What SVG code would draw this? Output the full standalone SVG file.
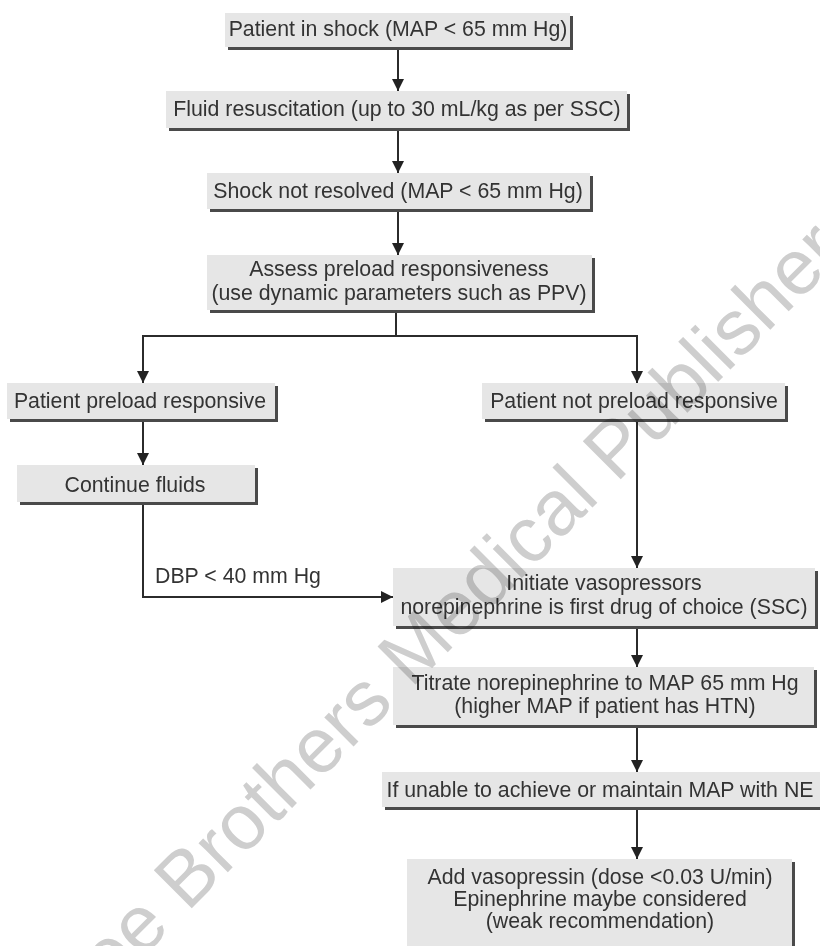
<svg xmlns="http://www.w3.org/2000/svg" width="820" height="946" viewBox="0 0 820 946">
<style>
text{font-family:"Liberation Sans",Arial,Helvetica,sans-serif;font-size:21.3px;fill:#333333}
.box{fill:#e6e6e6}
.sh{fill:#4a4a4a}
.c{text-anchor:middle}
.ln{fill:none;stroke:#2b2b2b;stroke-width:2}
.wm{font-size:78px;fill:#cecece;mix-blend-mode:multiply}
</style>
<defs>
<marker id="ah" viewBox="0 0 12 12" markerWidth="12" markerHeight="12" refX="12" refY="6" orient="auto" markerUnits="userSpaceOnUse">
<path d="M0,0 L12,6 L0,12 Z" fill="#222222"/>
</marker>
</defs>
<rect width="820" height="946" fill="#ffffff"/>

<g id="n1">
<rect class="sh" x="228" y="16" width="345" height="34"/>
<rect class="box" x="225" y="13" width="345" height="34"/>
<text class="c" x="398" y="36">Patient in shock (MAP &lt; 65 mm Hg)</text>
</g>
<g id="n2">
<rect class="sh" x="169" y="94" width="461" height="37"/>
<rect class="box" x="166" y="91" width="461" height="37"/>
<text class="c" x="397" y="116">Fluid resuscitation (up to 30 mL/kg as per SSC)</text>
</g>
<g id="n3">
<rect class="sh" x="210" y="176" width="383" height="36"/>
<rect class="box" x="207" y="173" width="383" height="36"/>
<text class="c" x="398" y="198">Shock not resolved (MAP &lt; 65 mm Hg)</text>
</g>
<g id="n4">
<rect class="sh" x="210" y="258" width="385" height="55"/>
<rect class="box" x="207" y="255" width="385" height="55"/>
<text class="c" x="399" y="276">Assess preload responsiveness</text>
<text class="c" x="399" y="300">(use dynamic parameters such as PPV)</text>
</g>
<g id="n5">
<rect class="sh" x="10" y="386" width="268" height="36"/>
<rect class="box" x="7" y="383" width="268" height="36"/>
<text class="c" x="140" y="408">Patient preload responsive</text>
</g>
<g id="n6">
<rect class="sh" x="485" y="386" width="303" height="36"/>
<rect class="box" x="482" y="383" width="303" height="36"/>
<text class="c" x="634" y="408">Patient not preload responsive</text>
</g>
<g id="n7">
<rect class="sh" x="20" y="468" width="238" height="37"/>
<rect class="box" x="17" y="465" width="238" height="37"/>
<text class="c" x="135" y="492">Continue fluids</text>
</g>
<g id="n8">
<rect class="sh" x="396" y="571" width="422" height="58"/>
<rect class="box" x="393" y="568" width="422" height="58"/>
<text class="c" x="604" y="590">Initiate vasopressors</text>
<text class="c" x="604" y="614">norepinephrine is first drug of choice (SSC)</text>
</g>
<g id="n9">
<rect class="sh" x="396" y="670" width="421" height="58"/>
<rect class="box" x="393" y="667" width="421" height="58"/>
<text class="c" x="605" y="690">Titrate norepinephrine to MAP 65 mm Hg</text>
<text class="c" x="605" y="713">(higher MAP if patient has HTN)</text>
</g>
<g id="n10">
<rect class="sh" x="385" y="775" width="440" height="35"/>
<rect class="box" x="382" y="772" width="440" height="35"/>
<text class="c" x="600" y="797">If unable to achieve or maintain MAP with NE</text>
</g>
<g id="n11">
<rect class="sh" x="410" y="862" width="385" height="100"/>
<rect class="box" x="407" y="859" width="385" height="100"/>
<text class="c" x="600" y="884">Add vasopressin (dose &lt;0.03 U/min)</text>
<text class="c" x="600" y="906">Epinephrine maybe considered</text>
<text class="c" x="600" y="928">(weak recommendation)</text>
</g>

<g id="connectors">
<path class="ln" d="M398,50 V91" marker-end="url(#ah)"/>
<path class="ln" d="M398,131 V173" marker-end="url(#ah)"/>
<path class="ln" d="M398,212 V255" marker-end="url(#ah)"/>
<path class="ln" d="M396,313 V336 M142,336 H638"/>
<path class="ln" d="M143,336 V383" marker-end="url(#ah)"/>
<path class="ln" d="M637,336 V383" marker-end="url(#ah)"/>
<path class="ln" d="M143,422 V465" marker-end="url(#ah)"/>
<path class="ln" d="M143,505 V597 H393" marker-end="url(#ah)"/>
<path class="ln" d="M637,422 V568" marker-end="url(#ah)"/>
<path class="ln" d="M637,629 V667" marker-end="url(#ah)"/>
<path class="ln" d="M637,728 V772" marker-end="url(#ah)"/>
<path class="ln" d="M637,810 V859" marker-end="url(#ah)"/>
<text x="155" y="583">DBP &lt; 40 mm Hg</text>
</g>

<g id="watermark" transform="translate(187,913) rotate(-45)">
<text class="wm" x="-273" y="0">Jaypee Brothers Medical Publishers</text>
</g>
</svg>
